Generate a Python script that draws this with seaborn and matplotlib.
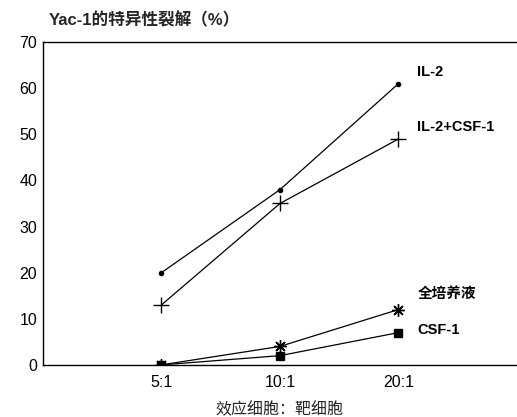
import matplotlib
matplotlib.use("Agg")
import matplotlib.pyplot as plt
import seaborn as sns
import pandas as pd

sns.set_theme(style="white")
plt.rcParams['font.family'] = ['Liberation Sans', 'Noto Sans CJK SC', 'DejaVu Sans']

ratios = ["5:1", "10:1", "20:1"]
il2 = [20, 38, 61]
il2_csf1 = [13, 35, 49]
whole_medium = [0, 4, 12]
csf1 = [0, 2, 7]

series_names = ["IL-2", "IL-2+CSF-1", "全培养液", "CSF-1"]
series_values = [il2, il2_csf1, whole_medium, csf1]
markers = {"IL-2": "o", "IL-2+CSF-1": "+", "全培养液": (8, 2, 0), "CSF-1": "s"}
marker_sizes = {"IL-2": 3, "IL-2+CSF-1": 11, "全培养液": 9, "CSF-1": 6}
label_y = {"IL-2": 63.5, "IL-2+CSF-1": 51.5, "全培养液": 15.5, "CSF-1": 7.5}

rows = []
for name, vals in zip(series_names, series_values):
    for i, (r, v) in enumerate(zip(ratios, vals)):
        rows.append({"series": name, "ratio": r, "pos": i + 1, "lysis": v})
df = pd.DataFrame(rows)

fig = plt.figure(figsize=(5.17, 4.17), dpi=100)
ax = fig.add_axes([0.083, 0.125, 0.917, 0.774])

for name in series_names:
    sub = df[df["series"] == name]
    sns.lineplot(data=sub, x="pos", y="lysis", ax=ax, color="black",
                 linewidth=0.9, marker=markers[name],
                 markersize=marker_sizes[name], markeredgewidth=1.0,
                 markerfacecolor="black", markeredgecolor="black",
                 legend=False)
    ax.text(3.16, label_y[name], name, fontsize=10.5, fontweight="bold",
            va="center", ha="left", color="black")

ax.set_xlim(0, 4)
ax.set_ylim(0, 70)
ax.set_xticks([1, 2, 3])
ax.set_xticklabels(ratios)
ax.set_yticks(range(0, 71, 10))
ax.tick_params(axis="both", direction="in", length=6, width=0.8,
               labelsize=11.5, colors="black", pad=4)
ax.tick_params(axis="x", pad=7)
for side in ["left", "top", "bottom"]:
    ax.spines[side].set_color("black")
    ax.spines[side].set_linewidth(1.0)
ax.spines["right"].set_visible(False)

ax.set_xlabel("效应细胞：靶细胞", fontsize=11.5, labelpad=9)
ax.set_ylabel("")
fig.text(0.095, 0.952, "Yac-1的特异性裂解（%）", fontsize=12,
         fontweight="bold", ha="left", va="center")

fig.savefig("out.png", dpi=100)
